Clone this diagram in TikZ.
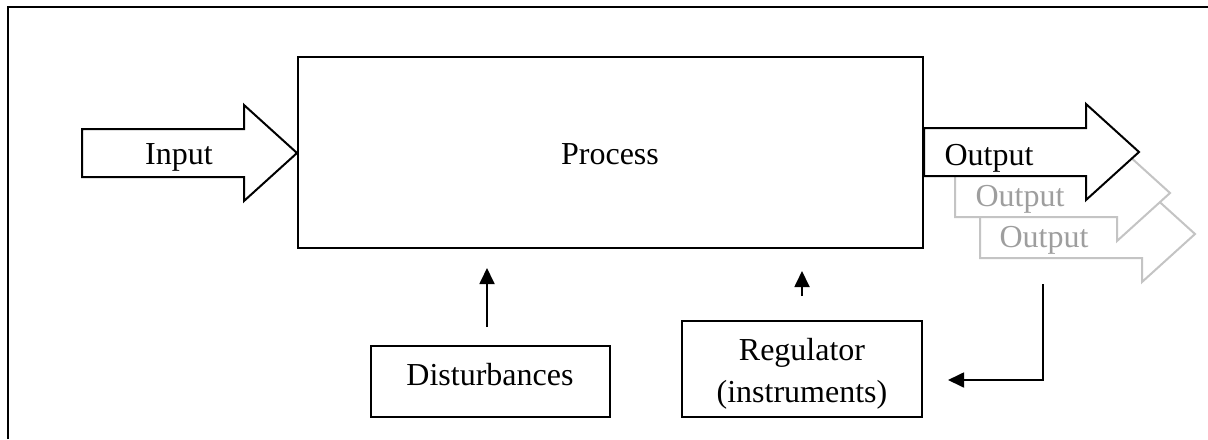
\documentclass[tikz,border=0pt]{standalone}
\usepackage{fontspec}
\setmainfont{Liberation Serif}
\usetikzlibrary{arrows.meta}
\definecolor{ghostline}{HTML}{C4C4C4}
\definecolor{ghosttext}{HTML}{9E9E9E}
\begin{document}
\begin{tikzpicture}[x=0.5pt,y=-0.5pt,
  every node/.style={font=\fontsize{16}{21}\selectfont, inner sep=0pt},
  box/.style={draw, line width=1pt, minimum width=#1, inner sep=0pt},
  lbl/.style={anchor=base},
  arr/.style={line width=0.9pt, -{Triangle[length=8pt,width=7.5pt]}},
  blockarrow/.pic={
    \path[pic actions] (0,-24) -- (162,-24) -- (162,-48) -- (215,0)
      -- (162,48) -- (162,24) -- (0,24) -- cycle;
  }]
  % page area and the open frame (top and left edges only)
  \fill[white] (0,0) rectangle (1208,439);
  \useasboundingbox (0,0) rectangle (1208,439);
  \draw[line width=1pt] (8,439) -- (8,7) -- (1208,7);

  % process block
  \node[box=312.5pt, minimum height=95.5pt] (proc) at (610.5,152.5) {};
  \node[lbl] (proctext) at (610,164) {Process};

  % input block arrow
  \pic[draw, fill=white, line width=1pt] at (82,153) {blockarrow};
  \node[lbl] (intext) at (179,164) {Input};

  % output block arrows: two faded copies behind the main one
  \pic[draw=ghostline, fill=white, line width=1pt] at (980,234) {blockarrow};
  \node[lbl, text=ghosttext] (outtextc) at (1044,247) {Output};
  \pic[draw=ghostline, fill=white, line width=1pt] at (955,193) {blockarrow};
  \node[lbl, text=ghosttext] (outtextb) at (1020,206) {Output};
  \pic[draw, fill=white, line width=1pt] at (924,152) {blockarrow};
  \node[lbl] (outtexta) at (989,165) {Output};

  % disturbances
  \node[box=119.5pt, minimum height=35.5pt] (dist) at (490.5,381.5) {};
  \node[lbl] (disttext) at (490,385) {Disturbances};
  \draw[arr] ([xshift=-1.75pt,yshift=9pt]dist.north)
    -- ([xshift=-1.75pt,yshift=-9.5pt]dist.north |- proc.south);

  % regulator
  \node[box=120pt, minimum height=48pt] (reg) at (802,369) {};
  \node[lbl] (regtexta) at (802,360) {Regulator};
  \node[lbl] (regtextb) at (802,402) {(instruments)};
  \draw[arr] ([yshift=12pt]reg.north) -- ([yshift=-11pt]reg.north |- proc.south);

  % feedback from the output to the regulator
  \coordinate (fb) at (1043,284);
  \draw[arr] (fb) |- ([xshift=12.5pt,yshift=-5.5pt]reg.east);
\end{tikzpicture}
\end{document}
